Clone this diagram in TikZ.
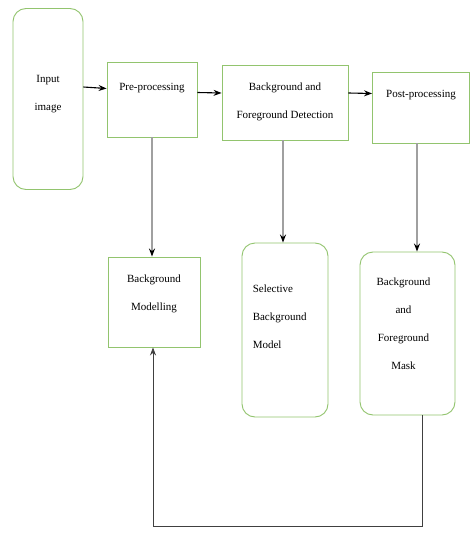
\documentclass[tikz,border=0pt]{standalone}
\usepackage{fontspec}
\setmainfont{Liberation Serif}
\usetikzlibrary{arrows.meta}
\definecolor{boxgreen}{RGB}{146,196,110}
\definecolor{linegray}{RGB}{160,160,160}
\tikzset{
  box/.style={draw=boxgreen, line width=0.9pt, inner sep=0pt},
  roundbox/.style={box, rounded corners=13pt},
  txt/.style={inner sep=0pt, align=center, font=\fontsize{11}{28}\selectfont},
  arr/.style={-{Stealth[length=8pt,width=6pt]}, line width=1.1pt},
  garr/.style={-{Stealth[length=8pt,width=6pt,color=black]}, draw=linegray, line width=1.4pt}
}
\begin{document}
\begin{tikzpicture}[x=1pt,y=-1pt]
\useasboundingbox[fill=white] (0,0) rectangle (472,546);
% boxes
\node[roundbox, minimum width=70, minimum height=181] (input) at (48,99) {};
\node[box, minimum width=90, minimum height=75] (pre) at (152,99.5) {};
\node[box, minimum width=126, minimum height=75] (det) at (285,102.5) {};
\node[box, minimum width=97, minimum height=71] (post) at (421,107.5) {};
\node[box, minimum width=92, minimum height=90] (model) at (154,302) {};
\node[roundbox, minimum width=86, minimum height=174] (sel) at (285,330) {};
\node[roundbox, minimum width=95, minimum height=163] (mask) at (407.5,333.5) {};
% texts
\node[txt] (inputtxt) at ([yshift=5]input.center) {Input\\image};
\node[txt] (pretxt) at ([yshift=11.5]pre.center) {Pre-processing};
\node[txt] (dettxt) at ([yshift=1]det.center) {Background and\\Foreground Detection};
\node[txt] (posttxt) at ([yshift=12.5]post.center) {Post-processing};
\node[txt] (modeltxt) at ([yshift=8]model.center) {Background\\Modelling};
\node[txt, align=left, anchor=west] (seltxt) at ([xshift=11,yshift=13]sel.west) {Selective\\Background\\Model};
\node[txt] (masktxt) at ([xshift=-4,yshift=9.5]mask.center) {Background\\and\\Foreground\\Mask};
% connectors
\draw[arr] ([yshift=12]input.east) -- ([yshift=11]pre.west);
\draw[arr] ([yshift=7]pre.east) -- ([yshift=9.5]det.west);
\draw[arr] ([yshift=9.5]det.east) -- ([yshift=14]post.west);
\draw[garr] (pre.south) -- (pre.south |- model.north);
\draw[garr] ([xshift=-2]det.south) -- ([xshift=-2]det.south |- sel.north);
\draw[garr] ([xshift=-4]post.south) -- ([xshift=-4]post.south |- mask.north);
\coordinate (loop) at (153,526);
\draw[arr, draw=black!75, line width=0.8pt] ([xshift=14.5]mask.south) |- (loop) -- (loop |- model.south);
\end{tikzpicture}
\end{document}
